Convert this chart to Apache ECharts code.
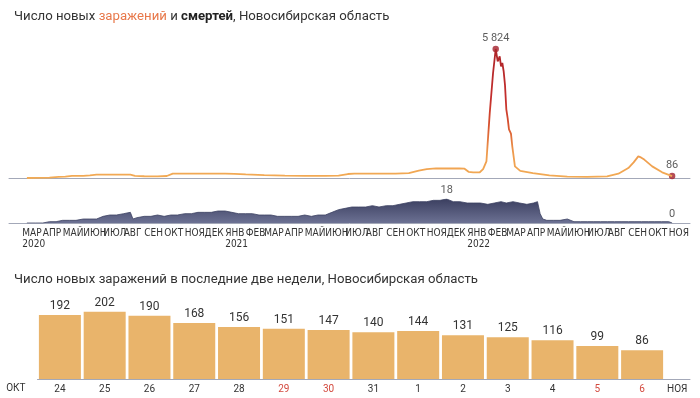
<!DOCTYPE html>
<html>
<head>
<meta charset="utf-8">
<script src="https://cdn.jsdelivr.net/npm/echarts@6/dist/echarts.min.js"></script>
<style>
  html, body { margin: 0; padding: 0; background: #fff; }
  #chart { width: 700px; height: 398px; }
</style>
</head>
<body>
<div id="chart"></div>
<script>
// daily new infections
var infDates = [
  '2020-03-08', '2020-03-21', '2020-04-11', '2020-04-25', '2020-05-05', '2020-05-15',
  '2020-06-01', '2020-06-11', '2020-06-21', '2020-07-11', '2020-08-01', '2020-08-11',
  '2020-08-18', '2020-09-01', '2020-09-21', '2020-10-05', '2020-10-14', '2020-11-01',
  '2020-12-01', '2021-01-01', '2021-01-15', '2021-02-01', '2021-03-01', '2021-04-01',
  '2021-05-01', '2021-06-01', '2021-06-21', '2021-07-05', '2021-07-15', '2021-08-15',
  '2021-09-15', '2021-10-05', '2021-10-20', '2021-11-01', '2021-11-15', '2021-12-01',
  '2021-12-20', '2021-12-28', '2022-01-03', '2022-01-10', '2022-01-20', '2022-01-25',
  '2022-01-30', '2022-02-04', '2022-02-09', '2022-02-13', '2022-02-16', '2022-02-19',
  '2022-02-21', '2022-02-23', '2022-02-25', '2022-02-27', '2022-03-01', '2022-03-03',
  '2022-03-05', '2022-03-07', '2022-03-08', '2022-03-10', '2022-03-14', '2022-03-22',
  '2022-04-10', '2022-05-05', '2022-06-01', '2022-07-01', '2022-07-31', '2022-08-17',
  '2022-09-01', '2022-09-09', '2022-09-16', '2022-09-20', '2022-09-25', '2022-10-07',
  '2022-10-22', '2022-11-06'
];
var infValues = [
  0, 5, 20, 50, 60, 95,
  100, 120, 150, 150, 155, 150,
  100, 80, 75, 90, 195, 200,
  200, 195, 190, 160, 130, 105,
  95, 100, 110, 180, 200, 200,
  200, 220, 330, 400, 430, 435,
  430, 420, 280, 255, 260, 400,
  750, 2930, 4740, 5824, 5264, 5490,
  5039, 5192, 4813, 4200, 3100, 2700,
  2200, 2250, 2000, 1430, 525, 320,
  225, 120, 65, 55, 70, 195,
  450, 705, 975, 930, 830, 525,
  255, 86
];

// daily deaths
var deathDates = [
  '2020-03-08', '2020-03-21', '2020-04-01', '2020-04-11', '2020-04-21', '2020-05-01', '2020-05-11', '2020-05-21',
  '2020-06-01', '2020-06-11', '2020-06-21', '2020-07-01', '2020-07-11', '2020-07-21',
  '2020-08-01', '2020-08-11', '2020-08-15', '2020-08-21', '2020-09-01', '2020-09-11', '2020-09-21',
  '2020-10-01', '2020-10-11', '2020-10-21', '2020-11-01', '2020-11-11', '2020-11-21',
  '2020-12-01', '2020-12-11', '2020-12-21', '2021-01-01', '2021-01-11', '2021-01-21',
  '2021-02-01', '2021-02-11', '2021-02-21', '2021-03-01', '2021-03-11', '2021-03-21',
  '2021-04-01', '2021-04-11', '2021-04-21', '2021-05-01', '2021-05-11', '2021-05-21',
  '2021-06-01', '2021-06-11', '2021-06-21', '2021-07-01', '2021-07-11', '2021-07-21',
  '2021-08-01', '2021-08-11', '2021-08-21', '2021-09-01', '2021-09-11', '2021-09-21',
  '2021-10-01', '2021-10-11', '2021-10-21', '2021-11-01', '2021-11-11', '2021-11-21',
  '2021-12-01', '2021-12-11', '2021-12-21', '2022-01-01', '2022-01-11', '2022-01-21',
  '2022-02-01', '2022-02-11', '2022-02-21', '2022-03-01', '2022-03-11', '2022-03-21',
  '2022-04-01', '2022-04-11', '2022-04-17', '2022-04-21', '2022-04-25', '2022-05-01',
  '2022-05-11', '2022-05-21', '2022-06-01', '2022-06-11', '2022-06-21', '2022-07-01',
  '2022-07-11', '2022-07-21', '2022-08-01', '2022-08-11', '2022-08-21', '2022-09-01',
  '2022-09-11', '2022-09-21', '2022-10-01', '2022-10-11', '2022-10-21', '2022-11-01',
  '2022-11-06'
];
var deathValues = [
  0, 0, 0, 1, 1, 2, 2, 2,
  3, 3, 3, 5, 6, 6,
  7, 8, 3, 4, 5, 5, 6,
  5, 6, 6, 7, 7, 8,
  8, 8, 9, 9, 8, 7,
  7, 7, 6, 6, 6, 5,
  5, 5, 5, 6, 5, 6,
  6, 8, 10, 11, 12, 12,
  12, 13, 12, 13, 13, 14,
  15, 16, 16, 16, 17, 17,
  18, 16, 16, 15, 15, 15,
  14, 15, 16, 15, 16, 15,
  14, 15, 16, 7, 3, 2,
  2, 2, 3, 1, 1, 1,
  1, 1, 1, 1, 1, 1,
  1, 1, 1, 1, 1, 1,
  0
];

// last two weeks
var dayLabels = ['24', '25', '26', '27', '28', '29', '30', '31', '1', '2', '3', '4', '5', '6'];
var dayValues = [192, 202, 190, 168, 156, 151, 147, 140, 144, 131, 125, 116, 99, 86];
var weekendDays = ['29', '30', '5', '6'];

var monthNames = ['ЯНВ', 'ФЕВ', 'МАР', 'АПР', 'МАЙ', 'ИЮН', 'ИЮЛ', 'АВГ', 'СЕН', 'ОКТ', 'НОЯ', 'ДЕК'];

var chart = echarts.init(document.getElementById('chart'));

function zip(a, b) {
  return a.map(function (d, i) { return [d, b[i]]; });
}
function fmtNum(v) {
  return String(v).replace(/\B(?=(\d{3})+(?!\d))/g, ' ');
}

var peakIdx = infValues.indexOf(Math.max.apply(null, infValues));
var lastIdx = infValues.length - 1;
var dPeakIdx = deathValues.indexOf(Math.max.apply(null, deathValues));
var dLastIdx = deathValues.length - 1;

var xMin = '2020-02-10';
var xMax = '2022-12-03';
var axisGray = '#a3a8b8';
var font = 'Roboto, sans-serif';
var narrow = "'Liberation Sans Narrow', 'DejaVu Sans Condensed', Roboto, sans-serif";
var DAY = 86400000;
var titleSize = 13.2;

var option = {
  animation: false,
  textStyle: { fontFamily: font },
  title: [
    {
      left: 9, top: 5,
      text: 'Число новых {o|заражений} и {b|смертей}, Новосибирская область',
      textStyle: {
        fontFamily: font, fontSize: titleSize, fontWeight: 'normal', color: '#333',
        rich: {
          o: { fontFamily: font, fontSize: titleSize, color: '#e8784a' },
          b: { fontFamily: font, fontSize: titleSize, fontWeight: 'bold', color: '#222' }
        }
      }
    },
    {
      left: 9, top: 268,
      text: 'Число новых заражений в последние две недели, Новосибирская область',
      textStyle: { fontFamily: font, fontSize: titleSize, fontWeight: 'normal', color: '#333' }
    }
  ],
  grid: [
    { left: 9, right: 10, top: 49, height: 129 },
    { left: 9, right: 10, top: 199, height: 24 },
    { left: 37.5, right: 35.5, top: 299, height: 80 },
    { left: 664.5, right: 10, top: 299, height: 80 }
  ],
  visualMap: {
    show: false,
    type: 'continuous',
    seriesIndex: 0,
    dimension: 1,
    min: 0,
    max: 5824,
    inRange: { color: ['#f2ab55', '#ee9a4d', '#d8552f', '#c52f2d', '#b92a2b', '#ad2428'] }
  },
  xAxis: [
    {
      type: 'time', gridIndex: 0, min: xMin, max: xMax,
      axisLine: { lineStyle: { color: axisGray, width: 1 } },
      axisTick: { show: false }, axisLabel: { show: false }, splitLine: { show: false }
    },
    {
      type: 'time', gridIndex: 1, min: xMin, max: xMax,
      minInterval: 28 * DAY, maxInterval: 31 * DAY,
      axisLine: { lineStyle: { color: axisGray, width: 1 } },
      axisTick: { show: false }, splitLine: { show: false },
      axisLabel: {
        show: true, align: 'left', margin: 5, fontSize: 10, lineHeight: 11, color: '#333',
        fontFamily: narrow,
        showMinLabel: false, showMaxLabel: false, hideOverlap: false,
        formatter: function (value) {
          var d = new Date(value);
          if (d.getDate() !== 1) return '';
          var y = d.getFullYear(), m = d.getMonth();
          if (y === 2020 && m < 2) return '';
          if (y === 2022 && m > 10) return '';
          var s = monthNames[m];
          if (m === 0 || (y === 2020 && m === 2)) s += '\n' + y;
          return s;
        }
      }
    },
    {
      type: 'category', gridIndex: 2, data: dayLabels,
      name: 'ОКТ', nameLocation: 'start', nameGap: 12,
      nameTextStyle: { fontSize: 10, color: '#333', verticalAlign: 'top', padding: [4, 0, 0, 0] },
      axisLine: { lineStyle: { color: axisGray, width: 1 } },
      axisTick: { show: false },
      axisLabel: {
        margin: 5, fontSize: 10, color: '#333',
        formatter: function (v) {
          return weekendDays.indexOf(v) >= 0 ? '{r|' + v + '}' : v;
        },
        rich: { r: { color: '#d34a3f', fontSize: 10 } }
      }
    },
    {
      type: 'value', gridIndex: 3, min: 0, max: 1,
      name: 'НОЯ', nameLocation: 'middle', nameGap: 5,
      nameTextStyle: { fontSize: 10, color: '#333', verticalAlign: 'top' },
      axisLine: { show: true, lineStyle: { color: axisGray, width: 1 } },
      axisTick: { show: false }, axisLabel: { show: false }, splitLine: { show: false }
    }
  ],
  yAxis: [
    { type: 'value', gridIndex: 0, min: 0, max: 5824, show: false },
    { type: 'value', gridIndex: 1, min: 0, max: 18, show: false },
    { type: 'value', gridIndex: 2, min: 0, max: 240, show: false },
    { type: 'value', gridIndex: 3, min: 0, max: 1, show: false }
  ],
  series: [
    {
      name: 'infections', type: 'line', xAxisIndex: 0, yAxisIndex: 0,
      showSymbol: false, lineStyle: { width: 1.8 },
      data: zip(infDates, infValues)
    },
    {
      name: 'infMarks', type: 'scatter', xAxisIndex: 0, yAxisIndex: 0,
      symbolSize: 6.5, itemStyle: { color: '#a21f2b' },
      label: {
        show: true, position: 'top', distance: 2, fontSize: 11, color: '#333',
        formatter: function (p) { return fmtNum(p.value[1]); }
      },
      data: [[infDates[peakIdx], infValues[peakIdx]], [infDates[lastIdx], infValues[lastIdx]]]
    },
    {
      name: 'deaths', type: 'line', xAxisIndex: 1, yAxisIndex: 1,
      showSymbol: false,
      lineStyle: { width: 0.8, color: '#3e4263' },
      areaStyle: {
        opacity: 1,
        color: new echarts.graphic.LinearGradient(0, 0, 0, 1, [
          { offset: 0, color: '#3b3f60' },
          { offset: 1, color: '#6c7193' }
        ])
      },
      data: zip(deathDates, deathValues)
    },
    {
      name: 'deathMarks', type: 'scatter', xAxisIndex: 1, yAxisIndex: 1,
      symbolSize: 0,
      label: {
        show: true, position: 'top', distance: 3, fontSize: 11, color: '#333',
        formatter: function (p) { return fmtNum(p.value[1]); }
      },
      data: [[deathDates[dPeakIdx], deathValues[dPeakIdx]], [deathDates[dLastIdx], deathValues[dLastIdx]]]
    },
    {
      name: 'days', type: 'bar', xAxisIndex: 2, yAxisIndex: 2,
      barWidth: 42, itemStyle: { color: '#e9b46b' },
      label: { show: true, position: 'top', distance: 3, fontSize: 12, color: '#333' },
      data: dayValues
    }
  ]
};

chart.setOption(option);
</script>
</body>
</html>
